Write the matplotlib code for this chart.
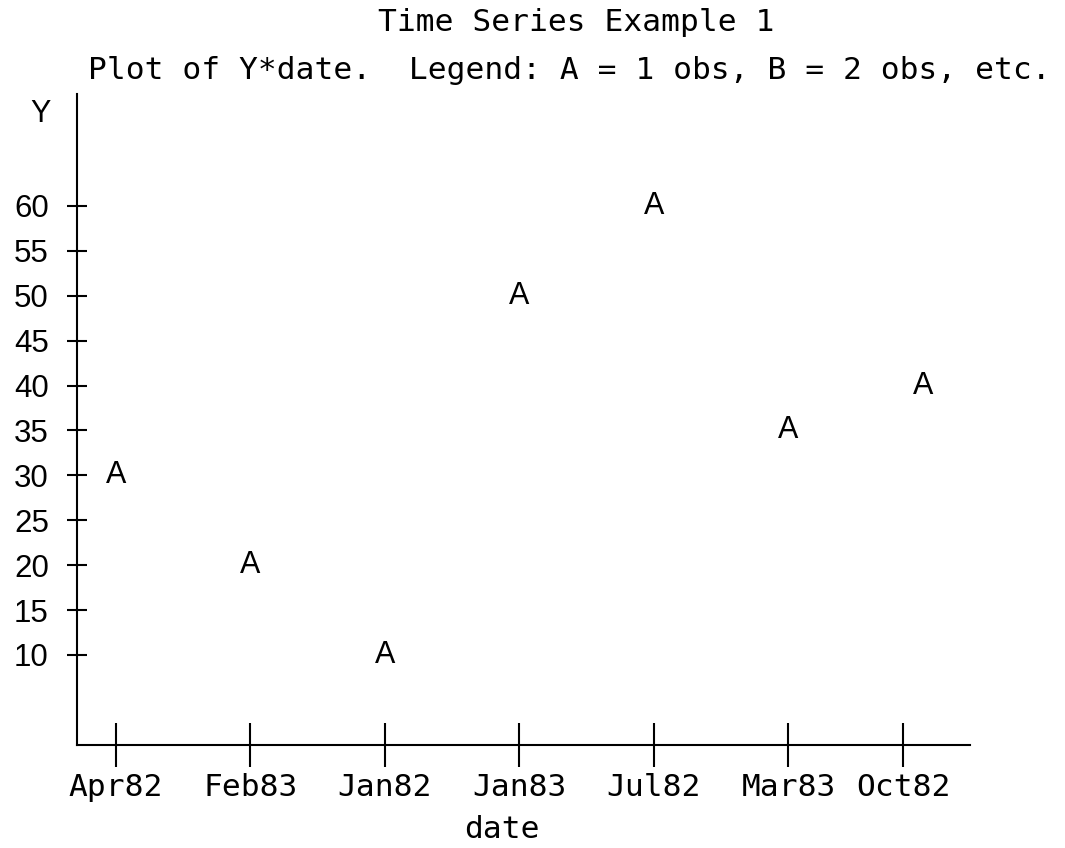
import matplotlib
matplotlib.use('Agg')
from matplotlib import pyplot as plt

# data
dates = ['Apr82', 'Feb83', 'Jan82', 'Jan83', 'Jul82', 'Mar83', 'Oct82']
yvals = [30, 20, 10, 50, 60, 35, 40]
yticks = [10, 15, 20, 25, 30, 35, 40, 45, 50, 55, 60]

mono = 'DejaVu Sans Mono'
sans = 'Liberation Sans'

fig = plt.figure(figsize=(10.65, 8.48), dpi=100)
ax = fig.add_axes([0.0723, 0.1215, 0.8385, 0.7677])

xs = list(range(len(dates)))
for x, y in zip(xs, yvals):
    ax.text(x, y, 'A', ha='center', va='center', fontsize=22, family=sans)

# last tick label is pulled left so it fits inside the axis line
tickpos = xs[:-1] + [xs[-1] - 0.145]
ax.set_xticks(tickpos)
ax.set_xticklabels(dates, family=mono, fontsize=22.5)
ax.set_yticks(yticks)
ax.set_yticklabels([str(v) for v in yticks], family=sans, fontsize=22.5)

ax.set_xlim(-0.29, 6.35)
ax.set_ylim(-0.02, 72.47)

for s in ['top', 'right']:
    ax.spines[s].set_visible(False)
for s in ['left', 'bottom']:
    ax.spines[s].set_linewidth(1.5)

ax.tick_params(axis='x', direction='inout', length=32, width=1.5, pad=4)
ax.tick_params(axis='y', direction='inout', length=14.5, width=1.5, pad=13)

fig.text(0.4714, 0.005, 'date', ha='center', va='bottom', family=mono, fontsize=22.5)

fig.text(0.541, 1 - 31 / 848, 'Time Series Example 1', ha='center', va='baseline',
         family=mono, fontsize=22.5)
fig.text(0.0826, 0.917, 'Plot of Y*date.  Legend: A = 1 obs, B = 2 obs, etc.',
         ha='left', va='center', family=mono, fontsize=22.5)
fig.text(0.0376, 0.866, 'Y', ha='center', va='center', family=sans, fontsize=22)

plt.savefig('out.png', dpi=100)
